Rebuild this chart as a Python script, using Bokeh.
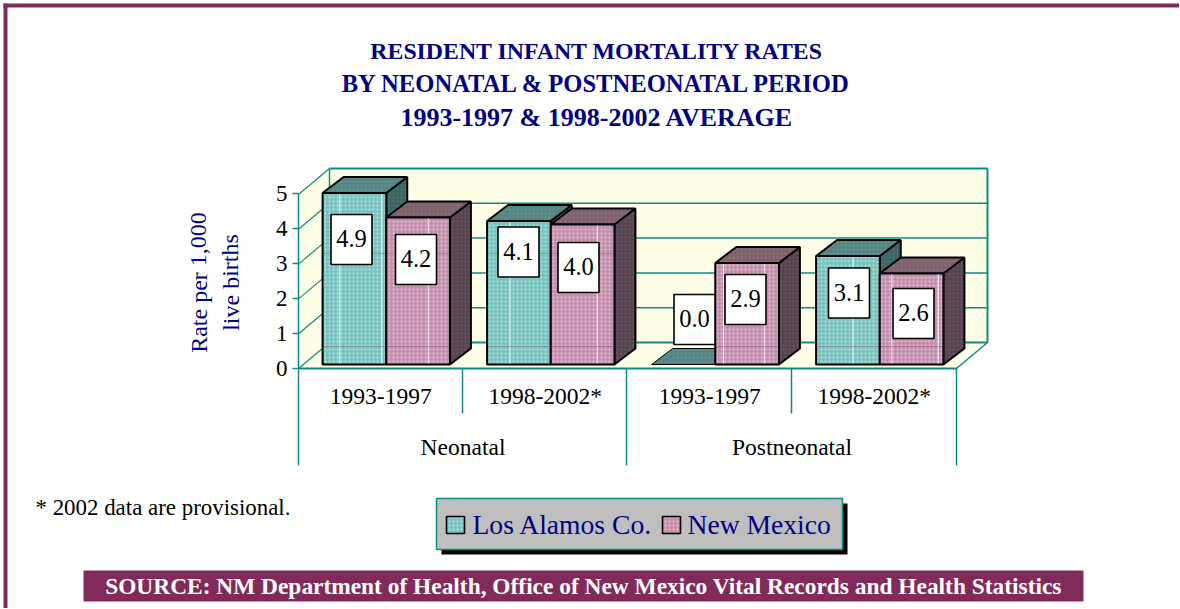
from bokeh.plotting import figure
from bokeh.embed import file_html
from bokeh.resources import INLINE
from bokeh.models import FixedTicker
from bokeh.core.properties import value

title_lines = ["RESIDENT INFANT MORTALITY RATES", "BY NEONATAL & POSTNEONATAL PERIOD", "1993-1997 & 1998-2002 AVERAGE"]
periods = ["1993-1997", "1998-2002*", "1993-1997", "1998-2002*"]
groups = ["Neonatal", "Postneonatal"]
series_names = ["Los Alamos Co.", "New Mexico"]
los_alamos = [4.9, 4.1, 0.0, 3.1]
new_mexico = [4.2, 4.0, 2.9, 2.6]
y_ticks = [0, 1, 2, 3, 4, 5]
note = "* 2002 data are provisional."
source_text = "SOURCE: NM Department of Health, Office of New Mexico Vital Records and Health Statistics"
y_title = ["Rate per 1,000", "live births"]

# layout (pixels)
W, H = 1180, 609
X0, Y0 = 299, 369
PX, PY = 164.5, 35.0
def X(px): return (px - X0) / PX
def Y(py): return (Y0 - py) / PY

FONT = value("Liberation Serif")
NAVY = "#000080"; TEAL = "#0e8a85"; MAROON = "#812b5b"; WALL = "#ffffe8"
FACE = {0: "#7cc3bf", 1: "#c28fac"}
TOP = {0: "#558583", 1: "#80606f"}
SIDE = {0: "#3d6462", 1: "#584350"}

p = figure(width=W, height=H, x_range=(X(0), X(W)), y_range=(Y(H), Y(0)),
           output_backend="svg", toolbar_location=None, min_border=0,
           margin=(-1, 0, 0, -1), outline_line_color=None, background_fill_color="white",
           border_fill_color="white", x_axis_location="below", y_axis_location="left")
p.grid.visible = False

def poly(xs, ys, color, **kw):
    return p.patch([X(a) for a in xs], [Y(b) for b in ys], fill_color=color, line_color=kw.pop("line_color", None), **kw)
def seg(x0, y0, x1, y1, color=TEAL, w=1.5, alpha=1.0):
    p.line([X(x0), X(x1)], [Y(y0), Y(y1)], line_color=color, line_width=w, line_alpha=alpha)
def txt(x, y, s, size, color="black", style="normal", angle=0, align="center"):
    p.text([X(x)], [Y(y)], text=[s], text_font=FONT, text_font_size=f"{size}px", text_color=color,
           text_font_style=style, text_align=align, text_baseline="middle", angle=angle)

# page border
poly([4, W + 2, W + 2, 4], [4, 4, 8, 8], MAROON)
poly([4, 8, 8, 4], [4, 4, H + 2, H + 2], MAROON)

# titles
for (line, cy, size) in zip(title_lines, [51, 84, 118], [23.8, 24.6, 26]):
    txt(597.5, cy, line, size, NAVY, "bold")

# walls
DX, DY = 31, 26
poly([X0, X0 + DX, X0 + DX, X0], [Y0 - 174, Y0 - 200, Y0 - DY, Y0], WALL)
poly([X0 + DX, X0 + DX + 658, X0 + DX + 658, X0 + DX], [Y0 - 200, Y0 - 200, Y0 - DY, Y0 - DY], WALL)
poly([X0, X0 + DX, X0 + DX + 658, X0 + 658], [Y0, Y0 - DY, Y0 - DY, Y0], WALL)
for t in y_ticks:
    fy = Y0 - t * 34.8
    by = fy - DY
    if t == 5:
        by = Y0 - 200
    seg(X0, fy, X0 + DX, by, w=1.2)
    seg(X0 + DX, by, X0 + DX + 658, by, w=2 if t in (0, 5) else 1.5)
seg(X0 + DX, Y0 - 200, X0 + DX, Y0 - DY)
seg(X0 + DX + 658, Y0 - 200, X0 + DX + 658, Y0 - DY, w=2)
seg(X0 + 658, Y0, X0 + DX + 658, Y0 - DY)

# lower category frame
seg(X0, Y0, X0, 466)
seg(X0 + 658, Y0, X0 + 658, 466)
seg(627, Y0, 627, 466)
seg(463, Y0, 463, 414)
seg(792, Y0, 792, 414)

# bars
BW = 0.387
DBX, DBY = 21, 16
BASE = 365
HF = dict(hatch_pattern="dot", hatch_color="white", hatch_scale=4.0, hatch_weight=0.8, hatch_alpha=0.5)
HD = dict(hatch_pattern="dot", hatch_color="white", hatch_scale=4.0, hatch_weight=0.8, hatch_alpha=0.12)
# scan streaks: white verticals on the front faces, fraction of a bar's width
streaks = [[[0.27, 0.93], [0.66]], [[0.36], [0.73]], [[], [0.13, 0.77]], [[0.58], [0.19, 0.92]]]
for i in range(4):
    cx = i + 0.5 + 5.5 / PX
    for s, vals in enumerate([los_alamos, new_mexico]):
        v = vals[i]
        left = cx + (s - 1) * BW
        l, r = X0 + left * PX, X0 + (left + BW) * PX
        t = BASE - v * PY
        if v > 0:
            poly([r, r + DBX, r + DBX, r], [t, t - DBY, BASE - DBY, BASE], SIDE[s], line_color="black", line_width=2, **HD)
        poly([l, l + DBX, r + DBX, r], [t, t - DBY, t - DBY, t], TOP[s], line_color="black", line_width=2 if v > 0 else 1, **HD)
        if v > 0:
            poly([l, r, r, l], [t, t, BASE, BASE], FACE[s], line_color="black", line_width=2, **HF)
            for f in streaks[i][s]:
                sx = l + f * (r - l)
                seg(sx, t + 1, sx, BASE - 1, "white", 1, 0.85)
            for sy in (254, 347):
                if t < sy:
                    seg(l + 1, sy, r - 1, sy, "#6b1f4a", 1, 0.3)

# data labels: hand-placed boxes (centre px)
box_cx = [[352, 519, 695, 849.5], [416.5, 579, 746, 914]]
box_cy = [[240, 252.5, 320, 293.5], [260, 268, 300, 314]]
for s, vals in enumerate([los_alamos, new_mexico]):
    for i, v in enumerate(vals):
        cx, cy = box_cx[s][i], box_cy[s][i]
        poly([cx - 20.5, cx + 20.5, cx + 20.5, cx - 20.5], [cy - 25, cy - 25, cy + 25, cy + 25], "white", line_color="black", line_width=1.6)
        txt(cx, cy - 1, f"{v:.1f}", 24.5)

# axes
ya = p.yaxis[0]
ya.fixed_location = X(X0)
ya.ticker = FixedTicker(ticks=y_ticks)
ya.bounds = (0, 5)
ya.major_label_text_font = "Liberation Serif"
ya.major_label_text_font_size = "23px"
ya.major_label_text_color = "black"
ya.major_label_standoff = 5
ya.major_tick_in = 0
ya.major_tick_out = 6
ya.minor_tick_line_color = None
ya.major_tick_line_color = TEAL
ya.axis_line_color = TEAL
ya.axis_line_width = 1.5
ya.major_tick_line_width = 1.5

xa = p.xaxis[0]
xa.fixed_location = 0
xa.ticker = FixedTicker(ticks=[i + 0.5 for i in range(4)])
xa.major_label_overrides = {i + 0.5: periods[i] for i in range(4)}
xa.bounds = (0, 4)
xa.major_label_text_font = "Liberation Serif"
xa.major_label_text_font_size = "23.5px"
xa.major_label_text_color = "black"
xa.major_label_standoff = 14
xa.major_tick_in = 0
xa.major_tick_out = 0
xa.minor_tick_line_color = None
xa.axis_line_color = TEAL
xa.axis_line_width = 2

for i, g in enumerate(groups):
    p.text([2 * i + 1], [Y(447)], text=[g], text_font=FONT, text_font_size="23.5px", text_color="black",
           text_align="center", text_baseline="middle")

# y title
txt(199, 283, y_title[0], 24, NAVY, angle=1.5708)
txt(231, 283, y_title[1], 24, NAVY, angle=1.5708)

# note
txt(36, 508, note, 22.9, "black", align="left")

# legend
poly([442, 848, 848, 442], [504, 504, 555, 555], "black")
poly([437, 843, 843, 437], [499, 499, 550, 550], "#bfbfbf", line_color=TEAL, line_width=1.5)
for sx, tx, s in [(447, 473, 0), (663, 688, 1)]:
    poly([sx, sx + 18, sx + 18, sx], [517, 517, 534, 534], FACE[s], line_color="black", line_width=1.6, **HF)
    txt(tx, 525, series_names[s], 27.6, NAVY, align="left")

# source bar
poly([84, 1084, 1084, 84], [571, 571, 602, 602], MAROON)
txt(584, 586, source_text, 23.4, "white", "bold")

open("out.html", "w").write(file_html(p, INLINE))
